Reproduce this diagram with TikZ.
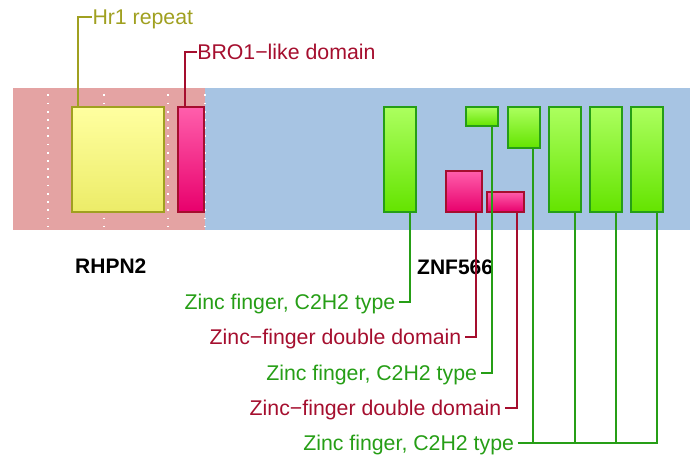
\documentclass[tikz,border=0pt]{standalone}
\usepackage{fontspec}
\setmainfont{Liberation Sans}
\usetikzlibrary{calc}

\definecolor{bgpink}{RGB}{228,163,163}
\definecolor{bgblue}{RGB}{167,196,227}
\definecolor{zfgreen}{RGB}{38,158,22}
\definecolor{zfred}{RGB}{165,14,46}
\definecolor{hrolive}{RGB}{160,160,32}
\definecolor{gtop}{RGB}{172,255,95}
\definecolor{gbot}{RGB}{100,228,0}
\definecolor{ptop}{RGB}{255,95,172}
\definecolor{pbot}{RGB}{232,0,108}
\definecolor{ytop}{RGB}{255,255,160}
\definecolor{ybot}{RGB}{236,236,104}

\tikzset{
  dom/.style={rectangle, draw, line width=2pt, inner sep=0pt, outer sep=0pt, anchor=north west},
  gdom/.style={dom, draw=zfgreen, top color=gtop, bottom color=gbot},
  pdom/.style={dom, draw=zfred, top color=ptop, bottom color=pbot},
  ydom/.style={dom, draw=hrolive, top color=ytop, bottom color=ybot},
  lab/.style={font=\fontsize{21.3}{25}\selectfont, text height=15pt, text depth=0pt, inner ysep=0pt, inner xsep=3.5pt},
  glab/.style={lab, text=zfgreen, anchor=east},
  rlab/.style={lab, text=zfred, anchor=east},
  gline/.style={draw=zfgreen, line width=2pt},
  rline/.style={draw=zfred, line width=2pt},
  oline/.style={draw=hrolive, line width=2pt},
  protname/.style={font=\fontsize{21}{25}\selectfont\bfseries, text height=15pt, text depth=0pt, inner sep=0pt},
  sep/.style={draw=white, line width=1.7pt, dash pattern=on 1.7pt off 6.5pt}
}

\begin{document}
\begin{tikzpicture}[x=1pt,y=-1pt]
\useasboundingbox (0,0) rectangle (690,457);

% protein backgrounds
\fill[bgpink] (13,88) rectangle (205,230);
\fill[bgblue] (205,88) rectangle (690,230);

% dotted separators in the RHPN2 region
\foreach \xx in {47.7,104.3,167.7,205}
  \draw[sep] (\xx,94.5) -- (\xx,230);

% protein names
\node[protname, anchor=west] (rhpn) at (75,266) {RHPN2};
\node[protname, anchor=west] (znf) at (417,267) {ZNF566};

% RHPN2 domains
\node[ydom, minimum width=92pt, minimum height=104.7pt] (hr) at (71.7,107) {};
\node[pdom, minimum width=26pt, minimum height=104.7pt] (bro) at (178.3,107) {};

% ZNF566 domains
\node[gdom, minimum width=32.3pt, minimum height=105pt] (z1) at (383.7,106.7) {};
\node[pdom, minimum width=36.6pt, minimum height=41pt] (d1) at (445.7,170.7) {};
\node[gdom, minimum width=32pt, minimum height=19.6pt] (z2) at (466.3,106.7) {};
\node[pdom, minimum width=37pt, minimum height=20pt] (d2) at (486.7,191.7) {};
\node[gdom, minimum width=32pt, minimum height=41.3pt] (z3) at (507.7,106.7) {};
\node[gdom, minimum width=32pt, minimum height=105pt] (z4) at (549,106.7) {};
\node[gdom, minimum width=32.3pt, minimum height=105pt] (z5) at (590,106.7) {};
\node[gdom, minimum width=32pt, minimum height=105pt] (z6) at (631.3,106.7) {};

% leader attachment points
\coordinate (ph) at ($(hr.north west)!0.072!(hr.north east)$);
\coordinate (pb) at ($(bro.north west)!0.26!(bro.north east)$);
\coordinate (p1) at ($(z1.south west)!0.8!(z1.south east)$);
\coordinate (q1) at ($(d1.south west)!0.83!(d1.south east)$);
\coordinate (p2) at ($(z2.south west)!0.81!(z2.south east)$);
\coordinate (q2) at ($(d2.south west)!0.82!(d2.south east)$);
\coordinate (p3) at ($(z3.south west)!0.8!(z3.south east)$);
\coordinate (p4) at ($(z4.south west)!0.8!(z4.south east)$);
\coordinate (p5) at ($(z5.south west)!0.805!(z5.south east)$);
\coordinate (p6) at ($(z6.south west)!0.8!(z6.south east)$);

% labels
\node[lab, text=hrolive, anchor=west, inner xsep=0.6pt] (lhr) at (91.7,17) {Hr1 repeat};
\node[lab, text=zfred, anchor=west, inner xsep=0.6pt] (lbro) at (196.5,52) {BRO1\textminus like domain};
\node[glab] (l1) at (399,301.7) {Zinc finger, C2H2 type};
\node[rlab] (l2) at (465,336.7) {Zinc\textminus finger double domain};
\node[glab] (l3) at (480.7,372.7) {Zinc finger, C2H2 type};
\node[rlab] (l4) at (505,408.3) {Zinc\textminus finger double domain};
\node[glab] (l5) at (517.7,442.7) {Zinc finger, C2H2 type};

% leaders
\draw[oline] (ph) |- (lhr.west);
\draw[rline] (pb) |- (lbro.west);
\draw[gline] (p1) |- (l1.east);
\draw[rline] (q1) |- (l2.east);
\draw[gline] (p2) |- (l3.east);
\draw[rline] (q2) |- (l4.east);
\draw[gline] (l5.east) -| (p6);
\draw[gline] (p3) -- (p3 |- l5.east);
\draw[gline] (p4) -- (p4 |- l5.east);
\draw[gline] (p5) -- (p5 |- l5.east);
\end{tikzpicture}
\end{document}
